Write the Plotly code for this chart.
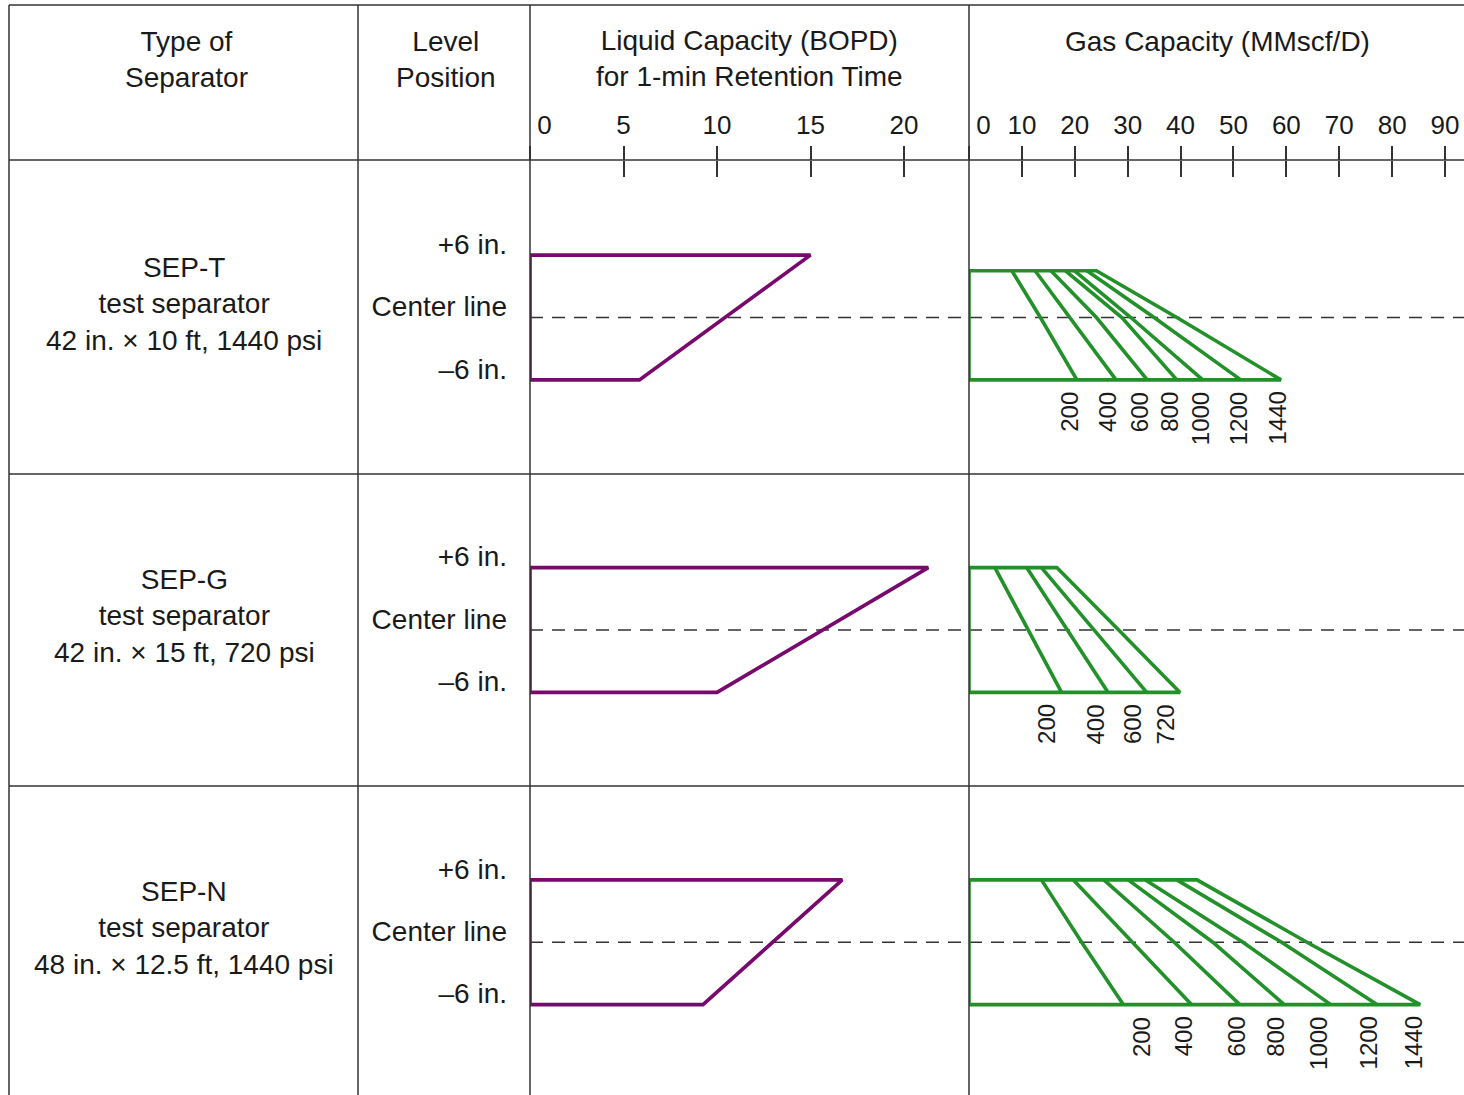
import plotly.graph_objects as go

# ---------------- data ----------------
sep_names = ["SEP-T", "SEP-G", "SEP-N"]
sep_desc = ["test separator", "test separator", "test separator"]
sep_size = ["42 in. × 10 ft, 1440 psi", "42 in. × 15 ft, 720 psi", "48 in. × 12.5 ft, 1440 psi"]

level_vals = [6, 0, -6]
level_text = ["+6 in.", "Center line", "–6 in."]

liquid_tick_vals = [0, 5, 10, 15, 20]
gas_tick_vals = [0, 10, 20, 30, 40, 50, 60, 70, 80, 90]

# Liquid capacity (BOPD, 1-min retention) at +6 in. and -6 in. level
liquid_at_top = [15.0, 21.3, 16.7]
liquid_at_bottom = [5.85, 10.0, 9.25]

# Gas capacity (MMscf/D) lines per operating pressure (psi)
gas_top_level = [4.5, 6.0, 6.0]

sept_psi = [200, 400, 600, 800, 1000, 1200, 1440]
sept_top = [8.1, 12.5, 15.5, 18.2, 19.9, 22.3, 24.1]
sept_mid = [13.5, 19.1, 24.1, 28.9, 30.6, 35.0, 39.3]
sept_bot = [20.4, 27.8, 33.7, 39.3, 44.2, 51.4, 59.0]

sepg_psi = [200, 400, 600, 720]
sepg_top = [4.9, 10.9, 13.7, 16.6]
sepg_mid = [11.2, 18.6, 23.7, 28.3]
sepg_bot = [17.5, 26.3, 33.6, 39.9]

sepn_psi = [200, 400, 600, 800, 1000, 1200, 1440]
sepn_top = [13.7, 19.7, 25.5, 30.1, 33.3, 39.3, 43.1]
sepn_mid = [21.3, 30.8, 38.8, 46.1, 51.8, 59.1, 63.9]
sepn_bot = [29.2, 42.1, 51.2, 59.6, 68.4, 77.2, 85.3]

gas_psi = [sept_psi, sepg_psi, sepn_psi]
gas_top = [sept_top, sepg_top, sepn_top]
gas_mid = [sept_mid, sepg_mid, sepn_mid]
gas_bot = [sept_bot, sepg_bot, sepn_bot]

# ---------------- layout / style ----------------
W, H = 1464, 1095
FONT = "Liberation Sans, Arial, sans-serif"
TXT = "#1a1a1a"
LINEC = "#333333"
PURPLE = "#780a6e"
GREEN = "#22912a"
MARK_W = 3.6

X_LEFT, X_C2, X_C3, X_C4, X_RIGHT = 9, 358, 530, 969, 1464
Y_TOP, Y_HDR = 5, 160
ROW_PX = [(160, 474), (474, 786), (786, 1095)]
ROW_CENTER = [317.5, 630.0, 942.25]
PX_PER_IN = 10.4
LIQ_PX_PER_UNIT = 18.7
GAS_PX_PER_UNIT = 5.289
label_xshift = [[-7, -8, -7, -7, -2, -2, -4],
                [-15, -13, -14, -15],
                [18, -8, -3, -9, -13, -9, -7]]


def px(x):
    return x / W


def py(y):
    return 1 - y / H


liq_range = [0, (X_C4 - X_C3) / LIQ_PX_PER_UNIT]
gas_range = [0, (X_RIGHT - X_C4) / GAS_PX_PER_UNIT]

fig = go.Figure()
layout = dict(
    width=W, height=H,
    margin=dict(l=0, r=0, t=0, b=0, pad=0, autoexpand=False),
    paper_bgcolor="white", plot_bgcolor="rgba(0,0,0,0)",
    showlegend=False,
    font=dict(family=FONT, color=TXT, size=26),
)

annotations = []
shapes = []

hidden_x = dict(showgrid=False, zeroline=False, showticklabels=False, ticks="",
                showline=False, fixedrange=True, automargin=False)

for r in range(3):
    lx = 2 * r + 1
    gx = 2 * r + 2
    lxn = "x" if lx == 1 else f"x{lx}"
    gxn = f"x{gx}"
    lyn = "y" if lx == 1 else f"y{lx}"
    gyn = f"y{gx}"
    top_px, bot_px = ROW_PX[r]
    c = ROW_CENTER[r]
    yrange = [(c - bot_px) / PX_PER_IN, (c - top_px) / PX_PER_IN]
    ydom = [py(bot_px), py(top_px)]

    layout["xaxis" if lx == 1 else f"xaxis{lx}"] = dict(
        domain=[px(X_C3), px(X_C4)], range=liq_range, anchor=lyn, **hidden_x)
    layout[f"xaxis{gx}"] = dict(
        domain=[px(X_C4), px(X_RIGHT)], range=gas_range, anchor=gyn, **hidden_x)
    layout["yaxis" if lx == 1 else f"yaxis{lx}"] = dict(
        domain=ydom, range=yrange, anchor=lxn, showgrid=False, zeroline=False,
        showline=False, ticks="", tickvals=level_vals, ticktext=level_text,
        tickfont=dict(size=28, family=FONT, color=TXT), automargin=False,
        ticklabelshift=-11, ticklabelstandoff=22, fixedrange=True)
    layout[f"yaxis{gx}"] = dict(
        domain=ydom, range=yrange, anchor=gxn, showgrid=False, zeroline=False,
        showline=False, showticklabels=False, ticks="", fixedrange=True,
        automargin=False)

    # dashed center lines
    for xn, yn in ((lxn, lyn), (gxn, gyn)):
        shapes.append(dict(type="line", xref=f"{xn} domain", yref=yn,
                           x0=0, x1=1, y0=0, y1=0, layer="below",
                           line=dict(color=LINEC, width=1.6, dash="13px,9px")))

    # liquid capacity polygon
    fig.add_trace(go.Scatter(
        x=[0, liquid_at_top[r], liquid_at_bottom[r], 0, 0],
        y=[6, 6, -6, -6, 6], mode="lines", xaxis=lxn, yaxis=lyn,
        line=dict(color=PURPLE, width=MARK_W), hoverinfo="skip"))

    # gas capacity outline
    tl = gas_top_level[r]
    tops, mids, bots = gas_top[r], gas_mid[r], gas_bot[r]
    fig.add_trace(go.Scatter(
        x=[0, tops[-1], mids[-1], bots[-1], 0, 0],
        y=[tl, tl, 0, -6, -6, tl], mode="lines", xaxis=gxn, yaxis=gyn,
        line=dict(color=GREEN, width=MARK_W), hoverinfo="skip"))
    for i in range(len(tops) - 1):
        fig.add_trace(go.Scatter(
            x=[tops[i], mids[i], bots[i]], y=[tl, 0, -6], mode="lines",
            xaxis=gxn, yaxis=gyn, line=dict(color=GREEN, width=MARK_W),
            hoverinfo="skip"))
    for i, p in enumerate(gas_psi[r]):
        annotations.append(dict(
            text=str(p), x=bots[i], y=-6, xref=gxn, yref=gyn, textangle=-90,
            xanchor="center", yanchor="top", yshift=-10,
            xshift=label_xshift[r][i], showarrow=False,
            font=dict(size=24, family=FONT, color=TXT)))

    # row label
    annotations.append(dict(
        text=f"{sep_names[r]}<br>{sep_desc[r]}<br>{sep_size[r]}",
        x=px((X_LEFT + X_C2) / 2 + 1), y=py(ROW_CENTER[r] - 14),
        xref="paper", yref="paper", xanchor="center", yanchor="middle",
        showarrow=False, align="center",
        font=dict(size=28, family=FONT, color=TXT)))

# header tick axes (free positioned on the header line)
zero_lab = "\u2007\u20070"
for base, rng, vals, nlab, nin in (("x", liq_range, liquid_tick_vals, 7, 8),
                                   ("x2", gas_range, gas_tick_vals, 9, 10)):
    dom = layout["xaxis" if base == "x" else "xaxis2"]["domain"]
    texts = [zero_lab if v == 0 else str(v) for v in vals]
    layout[f"xaxis{nlab}"] = dict(
        overlaying=base, anchor="free", position=py(Y_HDR), side="top",
        domain=dom, range=rng, tickvals=vals, ticktext=texts, ticks="outside",
        ticklen=14, tickwidth=1.5, tickcolor=LINEC, showgrid=False,
        zeroline=False, showline=False, fixedrange=True, automargin=False,
        ticklabelstandoff=2, tickfont=dict(size=26, family=FONT, color=TXT))
    layout[f"xaxis{nin}"] = dict(
        overlaying=base, anchor="free", position=py(Y_HDR), side="top",
        domain=dom, range=rng, tickvals=vals, showticklabels=False,
        ticks="inside", ticklen=16, tickwidth=1.5, tickcolor=LINEC,
        showgrid=False, zeroline=False, showline=False, fixedrange=True,
        automargin=False)
    fig.add_trace(go.Scatter(x=[], y=[], xaxis=f"x{nlab}", yaxis="y",
                             mode="lines", hoverinfo="skip"))
    fig.add_trace(go.Scatter(x=[], y=[], xaxis=f"x{nin}", yaxis="y",
                             mode="lines", hoverinfo="skip"))

# header texts
headers = [("Type of<br>Separator", 186, 59.5),
           ("Level<br>Position", 446, 59.5),
           ("Liquid Capacity (BOPD)<br>for 1-min Retention Time", 749, 59),
           ("Gas Capacity (MMscf/D)", 1217, 41)]
for t, hx, hy in headers:
    annotations.append(dict(text=t, x=px(hx), y=py(hy), xref="paper", yref="paper",
                            xanchor="center", yanchor="middle", showarrow=False,
                            align="center", font=dict(size=28, family=FONT, color=TXT)))


# table grid
def hline(y, x0=X_LEFT, x1=X_RIGHT):
    shapes.append(dict(type="line", xref="paper", yref="paper", x0=px(x0), x1=px(x1),
                       y0=py(y), y1=py(y), layer="above",
                       line=dict(color=LINEC, width=1.5)))


def vline(x, y0=Y_TOP, y1=H):
    shapes.append(dict(type="line", xref="paper", yref="paper", x0=px(x), x1=px(x),
                       y0=py(y0), y1=py(y1), layer="above",
                       line=dict(color=LINEC, width=1.5)))


hline(Y_TOP)
hline(Y_HDR)
hline(ROW_PX[0][1])
hline(ROW_PX[1][1])
for xv in (X_LEFT, X_C2, X_C3, X_C4):
    vline(xv)

layout["annotations"] = annotations
layout["shapes"] = shapes
fig.update_layout(**layout)

fig.write_html("out.html", config={"displayModeBar": False},
               post_script="document.body.style.margin='0';document.body.style.overflow='hidden';")
